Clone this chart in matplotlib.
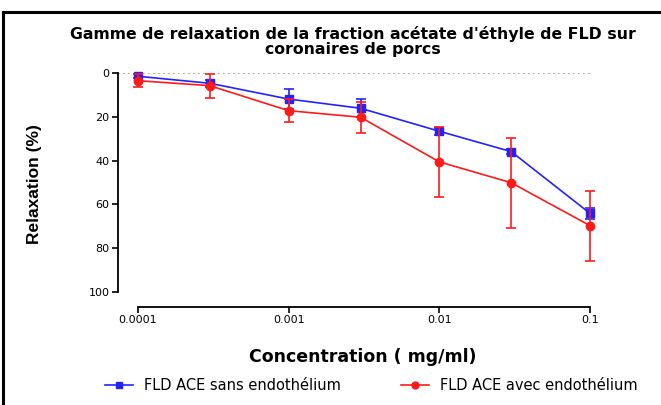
import numpy as np
import matplotlib
matplotlib.use('Agg')
import matplotlib.pyplot as plt
from matplotlib.lines import Line2D

plt.rcParams['font.family'] = ['DejaVu Sans']

# concentrations (mg/ml)
conc = [0.0001, 0.0003, 0.001, 0.003, 0.01, 0.03, 0.1]

# FLD ACE sans endothelium (mean, error)
sans_mean = [1.5, 4.7, 11.9, 16.1, 26.6, 35.9, 64.1]
sans_err = [1.0, 1.5, 4.6, 4.0, 1.5, 1.0, 2.6]

# FLD ACE avec endothelium (mean, error)
avec_mean = [3.5, 5.8, 17.2, 20.2, 40.6, 50.1, 69.7]
avec_err = [3.0, 5.5, 5.3, 7.0, 16.0, 20.6, 16.0]

xticks = [0.0001, 0.001, 0.01, 0.1]
xtick_labels = ['0.0001', '0.001', '0.01', '0.1']
yticks = [0, 20, 40, 60, 80, 100]

blue = '#2222ff'
red = '#ff1a1a'

fig = plt.figure(figsize=(6.61, 4.05), dpi=100)
ax = fig.add_axes([118/661, 1-292/405, (600-118)/661, (292-73)/405])

ax.set_xscale('log')
ppd = 150.7  # pixels per decade
ax.set_xlim(1e-4 / 10**(20/ppd), 0.1 * 10**(10/ppd))
ax.set_ylim(100, 0)

ax.hlines(0, ax.get_xlim()[0], 0.1, colors='#999999', linestyles=(0, (1, 2)), linewidth=1.2, zorder=1)

ax.errorbar(conc, sans_mean, yerr=sans_err, color=blue, marker='s', markersize=6,
            linewidth=1.2, capsize=3.5, elinewidth=1.2, capthick=1.2, clip_on=False, zorder=3)
ax.errorbar(conc, avec_mean, yerr=avec_err, color=red, marker='o', markersize=6,
            linewidth=1.2, capsize=3.5, elinewidth=1.2, capthick=1.2, clip_on=False, zorder=4)

for s in ['top', 'right']:
    ax.spines[s].set_visible(False)
ax.spines['left'].set_bounds(0, 100)
ax.spines['bottom'].set_bounds(1e-4, 0.1)
ax.spines['bottom'].set_position(('outward', 10.8))
ax.spines['left'].set_linewidth(1.3)
ax.spines['bottom'].set_linewidth(1.3)

ax.set_xticks(xticks)
ax.set_xticklabels(xtick_labels)
ax.minorticks_off()
ax.set_yticks(yticks)
ax.tick_params(axis='both', labelsize=8, width=1.2, length=4, color='black', pad=2)

fig.text(35/661, 1-184/405, 'Relaxation (%)', rotation=90, ha='center', va='center',
         fontsize=12.5, fontweight='bold', family='Liberation Sans')
fig.text(363/661, 1-357/405, 'Concentration ( mg/ml)', ha='center', va='center',
         fontsize=12.5, fontweight='bold')
fig.text(353/661, 1-41.5/405, "Gamme de relaxation de la fraction acétate d'éthyle de FLD sur\ncoronaires de porcs",
         ha='center', va='center', fontsize=11.3, fontweight='bold', linespacing=1.05)

handles = [Line2D([], [], color=blue, marker='s', markersize=5, linewidth=1.2),
           Line2D([], [], color=red, marker='o', markersize=5, linewidth=1.2)]
labels = ['FLD ACE sans endothélium', 'FLD ACE avec endothélium']
fig.legend(handles, labels, loc='center', bbox_to_anchor=(371.5/661, 1-386/405), ncol=2, frameon=False,
           fontsize=10.5, columnspacing=4.1, handlelength=1.9, handletextpad=0.8)

# outer frame (left and top)
fig.add_artist(Line2D([3/661, 3/661], [0, 1-12/405], color='black', linewidth=2.2))
fig.add_artist(Line2D([3/661, 1], [1-12/405, 1-12/405], color='black', linewidth=2.2))

fig.savefig('out.png', dpi=100)
